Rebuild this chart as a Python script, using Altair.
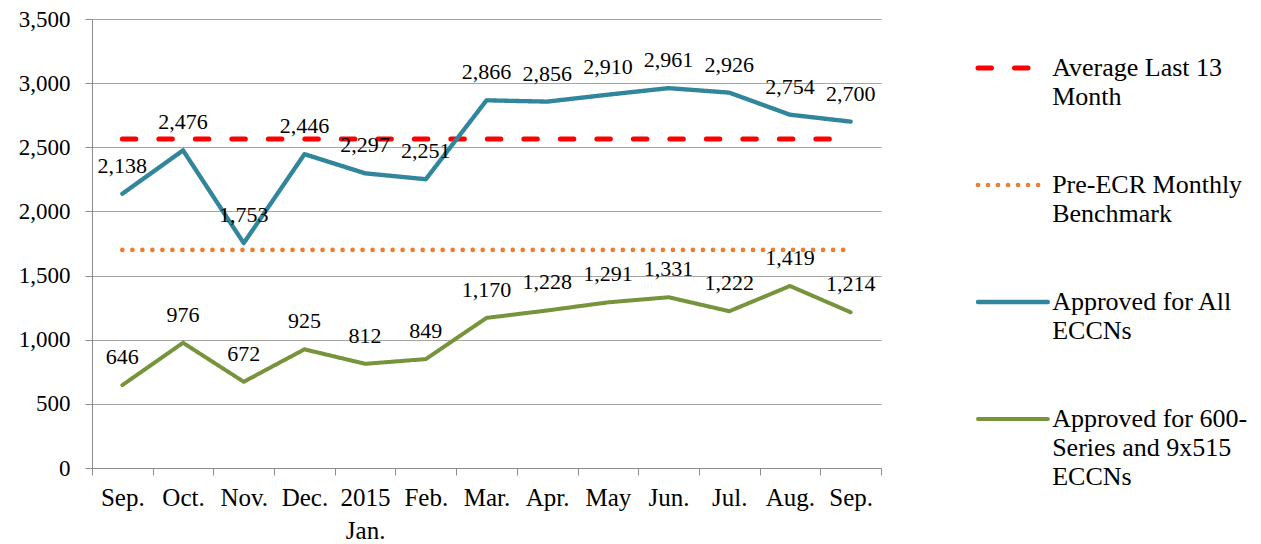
import altair as alt
import pandas as pd

# ---- data ----
months = ["Sep.", "Oct.", "Nov.", "Dec.", "2015|Jan.", "Feb.", "Mar.", "Apr.",
          "May", "Jun.", "Jul.", "Aug.", "Sep."]
approved_all = [2138, 2476, 1753, 2446, 2297, 2251, 2866, 2856, 2910, 2961, 2926, 2754, 2700]
approved_600 = [646, 976, 672, 925, 812, 849, 1170, 1228, 1291, 1331, 1222, 1419, 1214]
average_last_13 = [2564] * 13
pre_ecr_benchmark = [1700] * 13

series_names = ["Average Last 13 Month", "Pre-ECR Monthly Benchmark",
                "Approved for All ECCNs", "Approved for 600-Series and 9x515 ECCNs"]
legend_text = ["Average Last 13|Month",
               "Pre-ECR Monthly|Benchmark",
               "Approved for All|ECCNs",
               "Approved for 600-|Series and 9x515|ECCNs"]
colors = ["#FF0000", "#ED7D31", "#31859C", "#77933C"]
dashes = [[13.5, 23], [0.01, 10], [1, 0], [1, 0]]
widths = [5, 4, 4.5, 4.5]

FONT = "Liberation Serif"

rows = []
for name, vals in zip(series_names, [average_last_13, pre_ecr_benchmark, approved_all, approved_600]):
    for i, v in enumerate(vals):
        rows.append({"idx": i, "value": v, "series": name})
df = pd.DataFrame(rows)
lab_df = df[df["series"].isin(series_names[2:])]
leg_df = pd.DataFrame({"series": series_names, "text": legend_text})

color_scale = alt.Scale(domain=series_names, range=colors)
dash_scale = alt.Scale(domain=series_names, range=dashes)
width_scale = alt.Scale(domain=series_names, range=widths)

month_arr = "[" + ",".join("'" + m + "'" for m in months) + "]"
x_label_expr = f"isValid(datum.value) && datum.value >= 0 && datum.value < {len(months)} ? split({month_arr}[datum.value], '|') : ''"

x_enc = alt.X("idx:O", bandPosition=0.5,
              scale=alt.Scale(type="band", paddingInner=0, paddingOuter=0),
              axis=alt.Axis(title=None, labelExpr=x_label_expr, tickBand="extent",
                            labelAngle=0, labelFont=FONT, labelFontSize=25,
                            labelColor="#000000", labelPadding=10, labelLineHeight=33,
                            tickSize=7, tickColor="#8c8c8c", domainColor="#8c8c8c",
                            grid=False, labelBaseline="top"))
y_enc = alt.Y("value:Q",
              scale=alt.Scale(domain=[0, 3500], nice=False, zero=True),
              axis=alt.Axis(title=None, values=list(range(0, 3501, 500)), format=",d",
                            labelFont=FONT, labelFontSize=23, labelColor="#000000",
                            labelPadding=15, tickSize=7, tickColor="#8c8c8c",
                            domainColor="#8c8c8c", gridColor="#a6a6a6", gridWidth=1))

lines = alt.Chart(df).mark_line(strokeCap="round", strokeJoin="round").encode(
    x=x_enc,
    y=y_enc,
    color=alt.Color("series:N", scale=color_scale, legend=None),
    strokeDash=alt.StrokeDash("series:N", scale=dash_scale, legend=None),
    strokeWidth=alt.StrokeWidth("series:N", scale=width_scale, legend=None),
    detail="series:N",
)

labels = alt.Chart(lab_df).mark_text(font=FONT, fontSize=22, color="#000000", dy=-28,
                                     baseline="middle").encode(
    x=alt.X("idx:O", bandPosition=0.5),
    y=alt.Y("value:Q"),
    text=alt.Text("value:Q", format=",d"),
)

main = alt.layer(lines, labels).properties(width=789, height=449)

# ---- legend panel built from the series list ----
leg_y = alt.Y("series:N", sort=series_names,
              scale=alt.Scale(type="point", domain=series_names, padding=0.42),
              axis=None)
leg_x_scale = alt.Scale(domain=[0, 3.75], nice=False, zero=False)

leg_sym = alt.Chart(leg_df).mark_rule(strokeCap="round").encode(
    x=alt.X(datum=0, scale=leg_x_scale, axis=None),
    x2=alt.X2(datum=0.97),
    y=leg_y,
    color=alt.Color("series:N", scale=color_scale, legend=None),
    strokeDash=alt.StrokeDash("series:N", scale=dash_scale, legend=None),
    strokeWidth=alt.StrokeWidth("series:N", scale=width_scale, legend=None),
)
leg_txt = alt.Chart(leg_df).mark_text(font=FONT, fontSize=26, color="#000000", align="left",
                                      baseline="middle", lineBreak="|", lineHeight=29).encode(
    x=alt.X(datum=1.03, scale=leg_x_scale, axis=None),
    y=leg_y,
    text="text:N",
)
legend_panel = alt.layer(leg_sym, leg_txt).properties(width=270, height=449)

chart = alt.hconcat(main, legend_panel, spacing=93).properties(
    padding={"left": 10, "top": 0, "right": 0, "bottom": 0},
).configure_view(stroke=None)

chart.save("out.html", embed_options={"renderer": "svg", "actions": False})
